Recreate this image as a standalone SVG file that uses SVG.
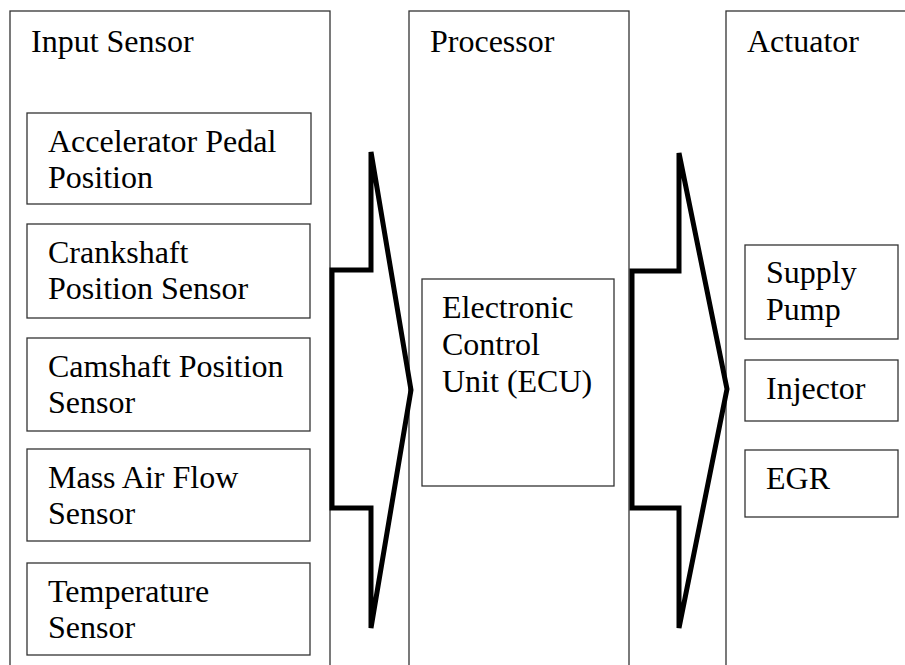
<svg xmlns="http://www.w3.org/2000/svg" width="905" height="665" viewBox="0 0 905 665">
  <style>
    .panel { fill: #fff; stroke: #333; stroke-width: 1.3; }
    .box { fill: #fff; stroke: #333; stroke-width: 1.3; }
    .label { font-family: "Liberation Serif", "Times New Roman", serif; font-size: 32px; fill: #000; }
    .flow { fill: none; stroke: #000; stroke-width: 5; stroke-linejoin: miter; }
  </style>
  <rect width="905" height="665" fill="#fff"/>

  <!-- column panels -->
  <g id="panel-input">
    <rect class="panel" x="10" y="11" width="320" height="700"/>
    <text class="label" x="31" y="52">Input Sensor</text>
  </g>
  <g id="panel-processor">
    <rect class="panel" x="409" y="11" width="220" height="700"/>
    <text class="label" x="430" y="52">Processor</text>
  </g>
  <g id="panel-actuator">
    <rect class="panel" x="726" y="11" width="220" height="700"/>
    <text class="label" x="747" y="52">Actuator</text>
  </g>

  <!-- input sensors -->
  <g id="sensor-accelerator">
    <rect class="box" x="27" y="113" width="284" height="91"/>
    <text class="label" x="48" y="152">Accelerator Pedal</text>
    <text class="label" x="48" y="188">Position</text>
  </g>
  <g id="sensor-crankshaft">
    <rect class="box" x="27" y="224" width="283" height="94"/>
    <text class="label" x="48" y="263">Crankshaft</text>
    <text class="label" x="48" y="299">Position Sensor</text>
  </g>
  <g id="sensor-camshaft">
    <rect class="box" x="27" y="338" width="283" height="93"/>
    <text class="label" x="48" y="377">Camshaft Position</text>
    <text class="label" x="48" y="413">Sensor</text>
  </g>
  <g id="sensor-maf">
    <rect class="box" x="27" y="449" width="283" height="92"/>
    <text class="label" x="48" y="488">Mass Air Flow</text>
    <text class="label" x="48" y="524">Sensor</text>
  </g>
  <g id="sensor-temperature">
    <rect class="box" x="27" y="563" width="283" height="92"/>
    <text class="label" x="48" y="602">Temperature</text>
    <text class="label" x="48" y="638">Sensor</text>
  </g>

  <!-- processor -->
  <g id="ecu">
    <rect class="box" x="422" y="279" width="192" height="207"/>
    <text class="label" x="442" y="318">Electronic</text>
    <text class="label" x="442" y="355">Control</text>
    <text class="label" x="442" y="392">Unit (ECU)</text>
  </g>

  <!-- actuators -->
  <g id="act-supply-pump">
    <rect class="box" x="745" y="245" width="153" height="94"/>
    <text class="label" x="766" y="283">Supply</text>
    <text class="label" x="766" y="320">Pump</text>
  </g>
  <g id="act-injector">
    <rect class="box" x="745" y="360" width="153" height="61"/>
    <text class="label" x="766" y="399">Injector</text>
  </g>
  <g id="act-egr">
    <rect class="box" x="745" y="450" width="153" height="67"/>
    <text class="label" x="766" y="489">EGR</text>
  </g>

  <!-- block arrows between columns -->
  <g id="connectors">
    <path class="flow" d="M371,152 L371,270 L332,270 L332,508 L371,508 L371,628 L411,390 Z"/>
    <path class="flow" d="M679,153 L679,271 L632,271 L632,508 L679,508 L679,628 L727,389 Z"/>
  </g>
</svg>
